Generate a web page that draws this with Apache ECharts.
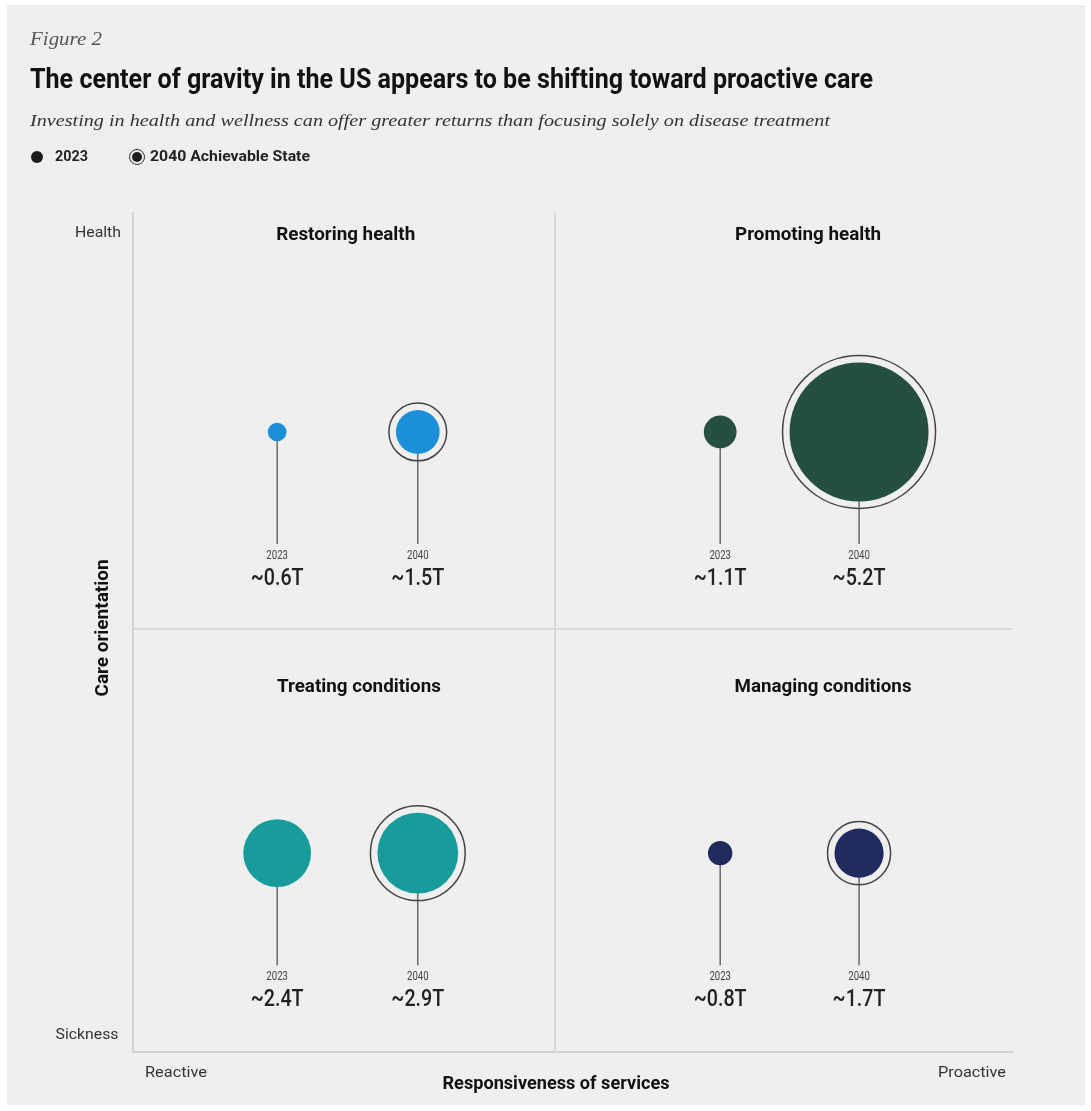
<!DOCTYPE html>
<html>
<head>
<meta charset="utf-8">
<script src="https://cdn.jsdelivr.net/npm/echarts@6/dist/echarts.min.js"></script>
<style>
html,body{margin:0;padding:0;background:#fff;}
#chart{width:1091px;height:1111px;}
</style>
</head>
<body>
<div id="chart"></div>
<script>
// ---------- data ----------
const quadrants = ['Restoring health', 'Promoting health', 'Treating conditions', 'Managing conditions'];
const years = ['2023', '2040'];
const values2023 = [0.6, 1.1, 2.4, 0.8];
const values2040 = [1.5, 5.2, 2.9, 1.7];
const legendLabels = ['2023', '2040 Achievable State'];
const yAxisLabels = ['Sickness', 'Health'];
const xAxisLabels = ['Reactive', 'Proactive'];
const xAxisName = 'Responsiveness of services';
const yAxisName = 'Care orientation';
const figureLabel = 'Figure 2';
const titleText = 'The center of gravity in the US appears to be shifting toward proactive care';
const subtitleText = 'Investing in health and wellness can offer greater returns than focusing solely on disease treatment';

// ---------- layout / style ----------
const colors = ['#1b8fd7', '#264f44', '#189b9b', '#1f2a5e'];
const colPos = [[16.4, 32.4], [66.8, 82.6]];   // x positions (axis units) per column: 2023, 2040
const rowPos = [73.9, 23.7];                   // y positions per row
const quadCol = [0, 1, 0, 1];
const quadRow = [0, 0, 1, 1];
const SANS = 'Roboto, "Liberation Sans", sans-serif';
const SERIF = '"Liberation Serif", "DejaVu Serif", serif';

const ctx = document.createElement('canvas').getContext('2d');
function fitScale(text, font, w) { ctx.font = font; return w / ctx.measureText(text).width; }
function txt(text, x, y, font, w, fill, align, extra) {
  const o = {
    type: 'text', x: x, y: y, scaleX: w ? fitScale(text, font, w) : 1, scaleY: 1,
    style: { text: text, font: font, fill: fill || '#222', align: align || 'left', verticalAlign: 'middle' },
    silent: true
  };
  return Object.assign(o, extra || {});
}
function sizeOf(v) { return 30 * Math.pow(v, 0.93); }
function fmt(v) { return '~' + v.toFixed(1) + 'T'; }

const d2023 = values2023.map((v, i) => ({ value: [colPos[quadCol[i]][0], rowPos[quadRow[i]], v, 0], itemStyle: { color: colors[i] } }));
const d2040 = values2040.map((v, i) => ({ value: [colPos[quadCol[i]][1], rowPos[quadRow[i]], v, 1], itemStyle: { color: colors[i] } }));

const titleFont = 'bold 18px ' + SANS;
const quadTitleX = [24.2, 76.8, 25.7, 78.5];
const quadTitleY = [97.3, 97.3, 43.5, 43.5];
const quadTitleW = [139, 146, 164, 177];

const chart = echarts.init(document.getElementById('chart'), null, { renderer: 'canvas' });

const option = {
  animation: false,
  backgroundColor: '#ffffff',
  grid: { left: 133, top: 213, width: 879, height: 839 },
  xAxis: {
    type: 'value', min: 0, max: 100,
    axisLine: { show: true, onZero: false, lineStyle: { color: '#d3d3d3', width: 2 } },
    axisTick: { show: false }, axisLabel: { show: false }, splitLine: { show: false }
  },
  yAxis: {
    type: 'value', min: 0, max: 100,
    axisLine: { show: true, onZero: false, lineStyle: { color: '#d3d3d3', width: 2 } },
    axisTick: { show: false }, axisLabel: { show: false }, splitLine: { show: false }
  },
  graphic: [
    { type: 'rect', z: -10, silent: true, shape: { x: 7, y: 5, width: 1078, height: 1100 }, style: { fill: '#efefef' } },
    txt(figureLabel, 30, 40, 'italic 18px ' + SERIF, 72, '#555'),
    txt(titleText, 30, 81, 'bold 28px ' + SANS, 843, '#111'),
    txt(subtitleText, 30, 122, 'italic 17px ' + SERIF, 800, '#333'),
    { type: 'circle', silent: true, shape: { cx: 37, cy: 157, r: 6 }, style: { fill: '#1c1c1c' } },
    txt(legendLabels[0], 55, 157, 'bold 15px ' + SANS, 33, '#222'),
    { type: 'circle', silent: true, shape: { cx: 137, cy: 157, r: 7.5 }, style: { fill: 'none', stroke: '#333', lineWidth: 1 } },
    { type: 'circle', silent: true, shape: { cx: 137, cy: 157, r: 5 }, style: { fill: '#1c1c1c' } },
    txt(legendLabels[1], 150, 157, 'bold 15px ' + SANS, 160, '#222'),
    txt(yAxisLabels[1], 98, 233, '15px ' + SANS, 46, '#333', 'center'),
    txt(yAxisLabels[0], 87, 1035, '15px ' + SANS, 63, '#333', 'center'),
    txt(xAxisLabels[0], 176, 1073, '15px ' + SANS, 62, '#333', 'center'),
    txt(xAxisLabels[1], 972, 1073, '15px ' + SANS, 68, '#333', 'center'),
    txt(xAxisName, 556, 1084, 'bold 18px ' + SANS, 227, '#111', 'center'),
    txt(yAxisName, 103, 628, 'bold 18px ' + SANS, 137, '#111', 'center', { rotation: Math.PI / 2 })
  ],
  series: [
    {
      type: 'scatter', name: 'dividers', data: [], silent: true,
      markLine: {
        silent: true, symbol: ['none', 'none'], label: { show: false },
        lineStyle: { color: '#dadada', width: 2, type: 'solid' },
        data: [{ xAxis: 48 }, { yAxis: 50.5 }]
      }
    },
    {
      type: 'custom', name: 'quadrant titles', z: 1, silent: true,
      data: quadrants.map((q, i) => [quadTitleX[i], quadTitleY[i], i]),
      renderItem: function (params, api) {
        const i = api.value(2);
        const p = api.coord([api.value(0), api.value(1)]);
        return txt(quadrants[i], p[0], p[1], titleFont, quadTitleW[i], '#111', 'center');
      }
    },
    {
      type: 'custom', name: 'stems', z: 1, silent: true,
      data: d2023.concat(d2040).map(d => d.value),
      renderItem: function (params, api) {
        const v = api.value(2), yi = api.value(3);
        const p = api.coord([api.value(0), api.value(1)]);
        const endY = p[1] + 112;
        const vt = fmt(v);
        return {
          type: 'group',
          children: [
            { type: 'line', shape: { x1: p[0], y1: p[1], x2: p[0], y2: endY }, style: { stroke: '#555', lineWidth: 1.3 } },
            txt(years[yi], p[0], endY + 12, '12px ' + SANS, 0, '#444', 'center', { scaleX: 0.8 }),
            txt(vt, p[0], endY + 35, '500 24px ' + SANS, 0, '#222', 'center', { scaleX: 0.82 })
          ]
        };
      }
    },
    {
      type: 'scatter', name: 'ring', z: 2, silent: true,
      data: d2040.map(d => ({ value: d.value })),
      symbolSize: function (val) { return sizeOf(val[2]) + 14; },
      itemStyle: { color: 'rgba(0,0,0,0)', borderColor: '#444', borderWidth: 1.5, opacity: 1 }
    },
    {
      type: 'scatter', name: years[0], z: 3, silent: true,
      data: d2023,
      symbolSize: function (val) { return sizeOf(val[2]); },
      itemStyle: { opacity: 1 }
    },
    {
      type: 'scatter', name: years[1], z: 3, silent: true,
      data: d2040,
      symbolSize: function (val) { return sizeOf(val[2]); },
      itemStyle: { opacity: 1 }
    }
  ]
};
chart.setOption(option);
</script>
</body>
</html>
